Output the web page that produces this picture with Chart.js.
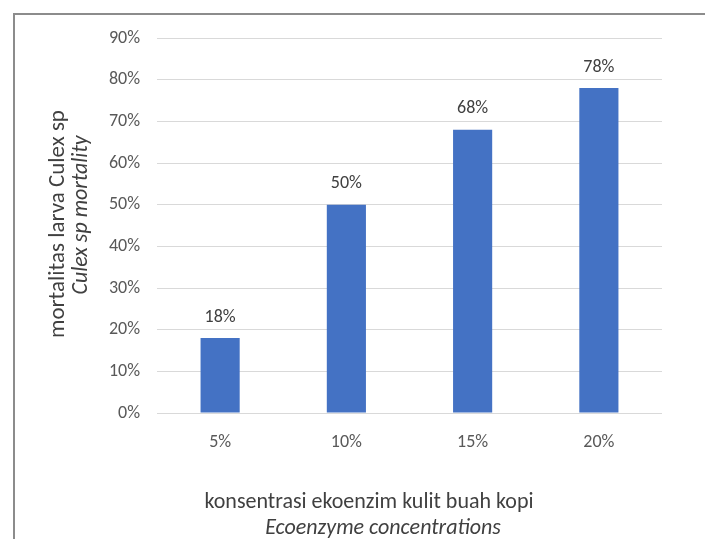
<!DOCTYPE html>
<html>
<head>
<meta charset="utf-8">
<script src="https://cdn.jsdelivr.net/npm/chart.js@4/dist/chart.umd.min.js"></script>
<style>
  html, body { margin: 0; padding: 0; background: #fff; }
  #wrap { position: relative; width: 705px; height: 539px; overflow: hidden; }
  #frame { position: absolute; left: 13px; top: 13px; width: 720px; height: 560px;
           border-left: 2px solid #8c8c8c; border-top: 2px solid #8c8c8c; }
  canvas { position: absolute; left: 0; top: 0; }
</style>
</head>
<body>
<div id="wrap">
  <div id="frame"></div>
  <canvas id="chart1" width="705" height="539"></canvas>
</div>
<script>
// data
var categories = ['5%', '10%', '15%', '20%'];
var mortality = [18, 50, 68, 78];
var yTicks = [0, 10, 20, 30, 40, 50, 60, 70, 80, 90];

var yTitle = ['mortalitas larva Culex sp', 'Culex sp mortality'];
var xTitle = ['konsentrasi ekoenzim kulit buah kopi', 'Ecoenzyme concentrations'];

var FONT = "Carlito, Lato, 'Open Sans', sans-serif";

// 막대 위 라벨 + 축 제목
var labelPlugin = {
  id: 'labels',
  afterDatasetsDraw: function (chart) {
    var ctx = chart.ctx;
    var meta = chart.getDatasetMeta(0);
    ctx.save();
    ctx.fillStyle = '#404040';
    ctx.font = '18px ' + FONT;
    ctx.textAlign = 'center';
    ctx.textBaseline = 'middle';
    meta.data.forEach(function (bar, i) {
      ctx.fillText(mortality[i] + '%', bar.x, bar.y - 21);
    });
    ctx.restore();
  },
  afterDraw: function (chart) {
    var ctx = chart.ctx;
    ctx.save();
    ctx.fillStyle = '#404040';
    ctx.textAlign = 'center';
    ctx.textBaseline = 'middle';
    // y title
    ctx.save();
    ctx.translate(58, 224);
    ctx.rotate(-Math.PI / 2);
    ctx.font = '23px ' + FONT;
    ctx.fillText(yTitle[0], 0, 0);
    ctx.restore();
    ctx.save();
    ctx.translate(81, 215);
    ctx.rotate(-Math.PI / 2);
    ctx.font = 'italic 22px ' + FONT;
    ctx.fillText(yTitle[1], 0, 0);
    ctx.restore();
    // x title
    ctx.font = '22px ' + FONT;
    ctx.fillText(xTitle[0], 369, 502);
    ctx.font = 'italic 22px ' + FONT;
    ctx.fillText(xTitle[1], 383, 528);
    ctx.restore();
  }
};

const data = {
  labels: categories,
  datasets: [{
    label: 'mortality',
    data: mortality,
    backgroundColor: '#4472C4',
    barPercentage: 0.31,
    categoryPercentage: 1
  }]
};

const config = {
  type: 'bar',
  data: data,
  options: {
    responsive: false,
    animation: false,
    layout: { padding: { left: 0, top: 38, right: 43, bottom: 0 } },
    plugins: {
      legend: { display: false },
      tooltip: { enabled: false }
    },
    scales: {
      x: {
        grid: { display: false, drawTicks: false },
        border: { display: false },
        ticks: { color: '#595959', font: { size: 18, family: FONT }, padding: 19 },
        afterFit: function (scale) { scale.height = 126; }
      },
      y: {
        min: 0,
        max: 90,
        afterBuildTicks: function (scale) {
          scale.ticks = yTicks.map(function (v) { return { value: v }; });
        },
        grid: { color: '#d9d9d9', drawTicks: false },
        border: { display: false },
        ticks: {
          color: '#595959',
          font: { size: 18, family: FONT },
          padding: 17,
          callback: function (v) { return v + '%'; }
        },
        afterFit: function (scale) { scale.width = 157; }
      }
    }
  },
  plugins: [labelPlugin]
};

const myChart = new Chart(document.getElementById('chart1'), config);
</script>
</body>
</html>
